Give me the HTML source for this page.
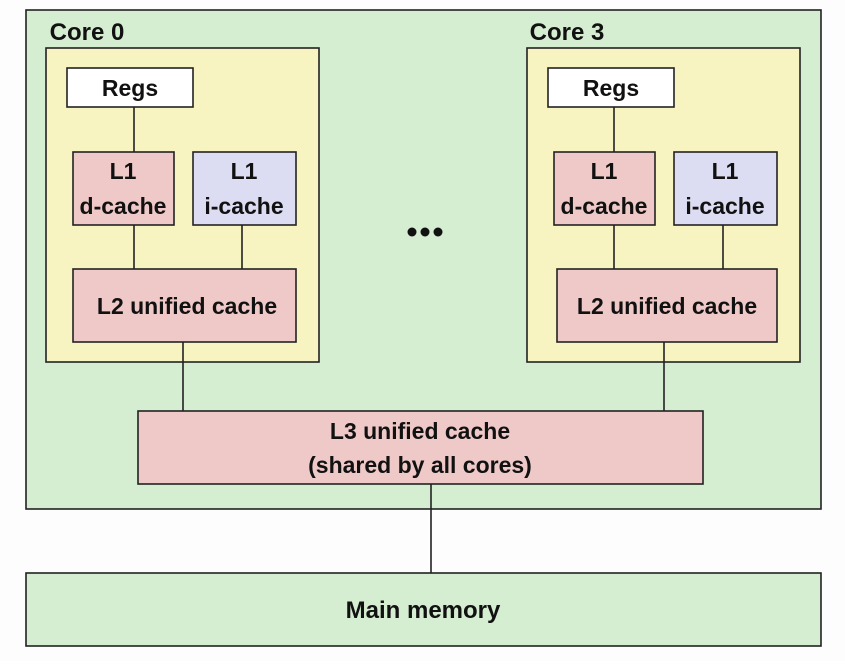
<!DOCTYPE html>
<html><head><meta charset="utf-8"><style>
html,body{margin:0;padding:0;background:#fff;}
svg text{font-family:"Liberation Sans",sans-serif;font-weight:bold;fill:#111;}
</style></head><body>
<svg width="845" height="661" viewBox="0 0 845 661" xmlns="http://www.w3.org/2000/svg">
<rect x="0" y="0" width="845" height="661" fill="#fdfdfd"/>
<g stroke="#222" stroke-width="1.6">
<rect x="26" y="10" width="795" height="499" fill="#d5edd0"/>
<rect x="26" y="573" width="795" height="73" fill="#d5edd0"/>
<rect x="46" y="48" width="273" height="314" fill="#f8f4c2"/>
<rect x="527" y="48" width="273" height="314" fill="#f8f4c2"/>
<line x1="134" y1="107" x2="134" y2="152"/>
<line x1="134" y1="225" x2="134" y2="269"/>
<line x1="242" y1="225" x2="242" y2="269"/>
<line x1="183" y1="342" x2="183" y2="411"/>
<line x1="614" y1="107" x2="614" y2="152"/>
<line x1="614" y1="225" x2="614" y2="269"/>
<line x1="723" y1="225" x2="723" y2="269"/>
<line x1="664" y1="342" x2="664" y2="411"/>
<line x1="431" y1="484" x2="431" y2="573"/>
<rect x="67" y="68" width="126" height="39" fill="#ffffff"/>
<rect x="73" y="152" width="101" height="73" fill="#efc9c8"/>
<rect x="193" y="152" width="103" height="73" fill="#dcdcf2"/>
<rect x="73" y="269" width="223" height="73" fill="#efc9c8"/>
<rect x="548" y="68" width="126" height="39" fill="#ffffff"/>
<rect x="554" y="152" width="101" height="73" fill="#efc9c8"/>
<rect x="674" y="152" width="103" height="73" fill="#dcdcf2"/>
<rect x="557" y="269" width="220" height="73" fill="#efc9c8"/>
<rect x="138" y="411" width="565" height="73" fill="#efc9c8"/>
</g>
<g font-size="23" text-anchor="middle">
<text x="87" y="40" font-size="24">Core 0</text>
<text x="567" y="40" font-size="24">Core 3</text>
<text x="130" y="96">Regs</text>
<text x="611" y="96">Regs</text>
<text x="123" y="179">L1</text><text x="123" y="214">d-cache</text>
<text x="244" y="179">L1</text><text x="244" y="214">i-cache</text>
<text x="604" y="179">L1</text><text x="604" y="214">d-cache</text>
<text x="725" y="179">L1</text><text x="725" y="214">i-cache</text>
<text x="187" y="314">L2 unified cache</text>
<text x="667" y="314">L2 unified cache</text>
<text x="420" y="439">L3 unified cache</text>
<text x="420" y="473">(shared by all cores)</text>
<text x="423" y="618" font-size="24">Main memory</text>
</g>
<circle cx="412" cy="232" r="4.5" fill="#111"/>
<circle cx="425" cy="232" r="4.5" fill="#111"/>
<circle cx="438" cy="232" r="4.5" fill="#111"/>
</svg>
</body></html>
